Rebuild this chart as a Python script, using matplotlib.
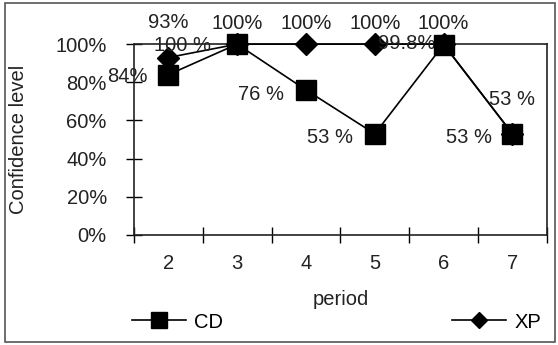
import matplotlib
matplotlib.use('Agg')
import matplotlib.pyplot as plt
from matplotlib.patches import Rectangle
from matplotlib.ticker import FixedLocator, NullFormatter

periods = ['2', '3', '4', '5', '6', '7']
cd_values = [84, 100, 76, 53, 99.8, 53]
xp_values = [93, 100, 100, 100, 100, 53]
cd_labels = ['84%', '100 %', '76 %', '53 %', '99.8%', '53 %']
xp_labels = ['93%', '100%', '100%', '100%', '100%', '53 %']

# label offsets in points (dx, dy) relative to each marker
cd_offsets = [(-15, -1), (-19, -1), (-16, -3), (-16, -3), (-6, 1), (-15, -3)]
xp_offsets = [(0, 25), (0, 15), (0, 15), (0, 15), (0, 15), (0, 25)]

plt.rcParams['font.family'] = ['Liberation Sans', 'DejaVu Sans']
FS = 14.5

fig = plt.figure(figsize=(5.58, 3.45), dpi=100)
fig.patches.append(Rectangle((5 / 558, 3 / 345), 550 / 558, 339 / 345,
                             transform=fig.transFigure, fill=False,
                             edgecolor='#555555', linewidth=1.2))
ax = fig.add_axes([0.240, 0.319, 0.740, 0.553])

x = list(range(len(periods)))
line_xp, = ax.plot(x, xp_values, color='black', lw=1.2, marker='D',
                   markersize=11, clip_on=False, zorder=3)
line_cd, = ax.plot(x, cd_values, color='black', lw=1.2, marker='s',
                   markersize=14, clip_on=False, zorder=4)

for i in x:
    dx, dy = cd_offsets[i]
    ax.annotate(cd_labels[i], (i, cd_values[i]), xytext=(dx, dy),
                textcoords='offset points', ha='right', va='center',
                fontsize=FS, color='#222222', annotation_clip=False)
    dx, dy = xp_offsets[i]
    ax.annotate(xp_labels[i], (i, xp_values[i]), xytext=(dx, dy),
                textcoords='offset points', ha='center', va='center',
                fontsize=FS, color='#222222', annotation_clip=False)

ax.set_xlim(-0.5, len(periods) - 0.5)
ax.set_ylim(0, 100)
ax.xaxis.set_major_locator(FixedLocator([i - 0.5 for i in range(len(periods) + 1)]))
ax.xaxis.set_major_formatter(NullFormatter())
ax.xaxis.set_minor_locator(FixedLocator(x))
ax.set_xticklabels(periods, minor=True)
ax.tick_params(axis='x', which='major', direction='inout', length=11, width=1)
ax.tick_params(axis='x', which='minor', length=0, pad=14, labelsize=FS,
               labelcolor='#222222')

ax.set_yticks([0, 20, 40, 60, 80, 100])
ax.set_yticklabels(['0%', '20%', '40%', '60%', '80%', '100%'])
ax.tick_params(axis='y', direction='inout', length=11, width=1, pad=14,
               labelsize=FS, labelcolor='#222222')

for s in ax.spines.values():
    s.set_linewidth(1.2)
    s.set_color('#222222')

ax.set_xlabel('period', fontsize=FS, labelpad=12, color='#222222')
ax.set_ylabel('Confidence level', fontsize=FS, color='#222222')
ax.yaxis.set_label_coords((28 - 134) / (0.740 * 558), 0.5)

leg_y = 1 - 322 / 345
fig.legend([line_cd], ['CD'], loc='center left',
           bbox_to_anchor=(132 / 558, leg_y), frameon=False,
           fontsize=FS, handlelength=2.7, handletextpad=0.4,
           borderpad=0, borderaxespad=0, numpoints=1, markerscale=0.78)
fig.legend([line_xp], ['XP'], loc='center left',
           bbox_to_anchor=(452 / 558, leg_y), frameon=False,
           fontsize=FS, handlelength=2.7, handletextpad=0.4,
           borderpad=0, borderaxespad=0, numpoints=1, markerscale=0.78)

fig.savefig('out.png', dpi=100)
